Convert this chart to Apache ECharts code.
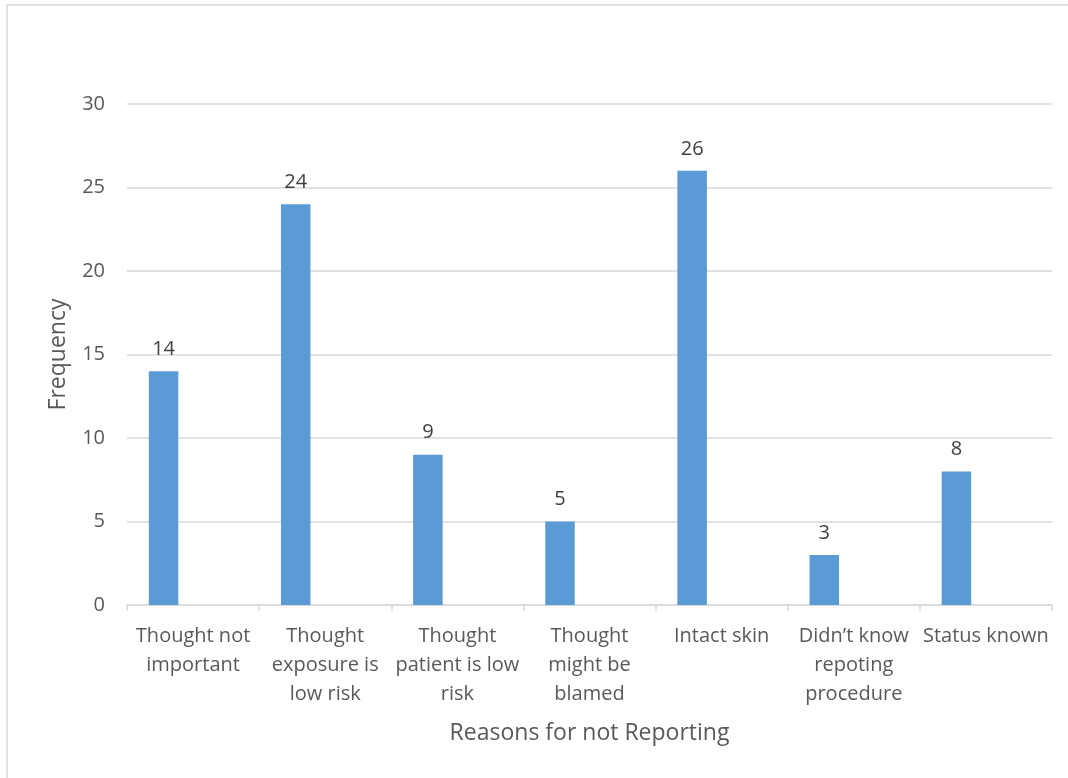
<!DOCTYPE html>
<html>
<head>
<meta charset="utf-8">
<style>
  html, body { margin: 0; padding: 0; background: #fff; }
  #chart { width: 1068px; height: 778px; }
</style>
<script src="https://cdn.jsdelivr.net/npm/echarts@6/dist/echarts.min.js"></script>
</head>
<body>
<div id="chart"></div>
<script>
// data
var categories = [
  'Thought not\nimportant',
  'Thought\nexposure is\nlow risk',
  'Thought\npatient is low\nrisk',
  'Thought\nmight be\nblamed',
  'Intact skin',
  'Didn\u2019t know\nrepoting\nprocedure',
  'Status known'
];
var frequency = [14, 24, 9, 5, 26, 3, 8];
var yTicks = [0, 30, 5]; // min, max, step

(function(){
    var myChart = echarts.init(document.getElementById('chart'));
    var font = '"Open Sans", "DejaVu Sans", sans-serif';
    var empty = categories.map(function(){ return null; });

    var option = {
        animation: false,
        backgroundColor: '#fff',
        graphic: [{
            type: 'rect',
            shape: { x: 7, y: 5, width: 1080, height: 800 },
            style: { fill: 'none', stroke: '#d9d9d9', lineWidth: 1.5 },
            silent: true
        }],
        grid: { left: 127, right: 16, top: 104, bottom: 173 },
        xAxis: {
            type: 'category',
            data: categories,
            name: 'Reasons for not Reporting',
            nameLocation: 'middle',
            nameGap: 117,
            nameTextStyle: { color: '#595959', fontSize: 23, fontFamily: font },
            axisLine: { lineStyle: { color: '#d9d9d9', width: 1.5 } },
            axisTick: { show: true, length: 6, alignWithLabel: false, lineStyle: { color: '#d9d9d9', width: 1.5 } },
            axisLabel: {
                interval: 0, margin: 17,
                color: '#595959', fontSize: 20, fontFamily: font, lineHeight: 29
            }
        },
        yAxis: {
            type: 'value',
            min: yTicks[0], max: yTicks[1], interval: yTicks[2],
            name: 'Frequency',
            nameLocation: 'middle',
            nameGap: 57,
            nameTextStyle: { color: '#595959', fontSize: 23, fontFamily: font },
            axisLine: { show: false },
            axisTick: { show: false },
            axisLabel: { color: '#595959', fontSize: 20, fontFamily: font, margin: 22 },
            splitLine: { lineStyle: { color: '#d9d9d9', width: 1.5 } }
        },
        series: [
            {
                name: 'Frequency',
                type: 'bar',
                data: frequency,
                barWidth: 29.5,
                barGap: '0%',
                itemStyle: { color: '#5b9bd5' },
                label: {
                    show: true, position: 'top', distance: 12,
                    color: '#404040', fontSize: 20, fontFamily: font
                }
            },
            // the source workbook had two more (blank) series which push the bars left
            { type: 'bar', data: empty, barWidth: 29.5, barGap: '0%' },
            { type: 'bar', data: empty, barWidth: 29.5, barGap: '0%' }
        ]
    };
    myChart.setOption(option);
})();
</script>
</body>
</html>
